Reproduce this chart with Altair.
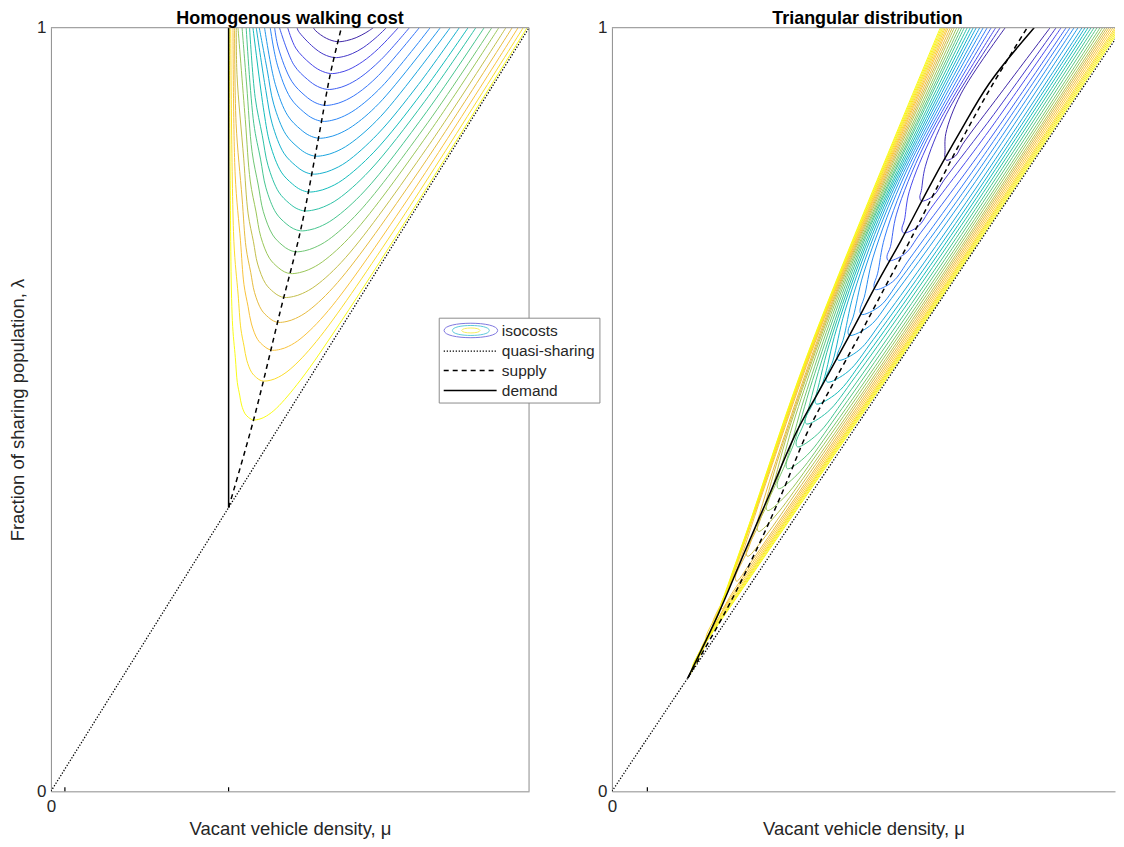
import altair as alt
import pandas as pd

# ---------------- Left panel: homogenous walking cost ----------------
H_MU_MAX = 4.79
H_LEVELS = [0.0, 0.056, 0.111, 0.167, 0.222, 0.278, 0.333, 0.389, 0.444, 0.5,
            0.556, 0.611, 0.667, 0.722, 0.778, 0.833, 0.889, 0.944, 1.0]

H01_MU = [2.63, 2.652, 2.761, 2.87, 2.963, 3.058, 3.155, 3.23]
H01_LAM = [1.0, 0.9960, 0.9860, 0.9817, 0.9831, 0.9870, 0.9935, 1.0]
H02_MU = [2.466, 2.48, 2.628, 2.734, 2.84, 2.929, 3.019, 3.128, 3.256, 3.361]
H02_LAM = [1.0, 0.9954, 0.9747, 0.9651, 0.9609, 0.9622, 0.9661, 0.9739, 0.9870, 1.0]
H03_MU = [2.372, 2.453, 2.596, 2.698, 2.80, 2.891, 2.984, 3.124, 3.281, 3.48]
H03_LAM = [1.0, 0.9733, 0.9533, 0.9441, 0.9400, 0.9413, 0.9452, 0.9557, 0.9726, 1.0]
H04_MU = [2.29, 2.433, 2.572, 2.671, 2.77, 2.862, 2.956, 3.098, 3.308, 3.591]
H04_LAM = [1.0, 0.9515, 0.9321, 0.9231, 0.9192, 0.9205, 0.9244, 0.9348, 0.9583, 1.0]
H05_MU = [2.241, 2.279, 2.414, 2.548, 2.644, 2.74, 2.833, 2.927, 3.07, 3.281, 3.69]
H05_LAM = [1.0, 0.9734, 0.9296, 0.9108, 0.9021, 0.8983, 0.8996, 0.9035, 0.9139, 0.9374, 1.0]
H06_MU = [2.197, 2.269, 2.40, 2.532, 2.626, 2.72, 2.814, 2.909, 3.053, 3.316, 3.799]
H06_LAM = [1.0, 0.9510, 0.9081, 0.8897, 0.8811, 0.8774, 0.8787, 0.8827, 0.8931, 0.9231, 1.0]
H07_MU = [2.14, 2.248, 2.374, 2.50, 2.59, 2.68, 2.776, 2.873, 3.02, 3.287, 3.901]
H07_LAM = [1.0, 0.9257, 0.8846, 0.8670, 0.8588, 0.8553, 0.8566, 0.8605, 0.8709, 0.9009, 1.0]
H08_MU = [2.087, 2.166, 2.232, 2.354, 2.476, 2.563, 2.65, 2.746, 2.843, 2.99, 3.305, 4.0]
H08_LAM = [1.0, 0.9452, 0.8999, 0.8602, 0.8432, 0.8352, 0.8318, 0.8331, 0.8370, 0.8475, 0.8840, 1.0]
H09_MU = [2.057, 2.153, 2.217, 2.334, 2.452, 2.536, 2.62, 2.716, 2.812, 2.959, 3.272, 3.682, 4.091]
H09_LAM = [1.0, 0.9179, 0.8741, 0.8357, 0.8193, 0.8116, 0.8083, 0.8096, 0.8136, 0.8240, 0.8605, 0.9257, 1.0]
H10_MU = [2.024, 2.135, 2.196, 2.308, 2.42, 2.50, 2.58, 2.676, 2.773, 2.92, 3.235, 3.721, 4.179]
H10_LAM = [1.0, 0.8892, 0.8475, 0.8109, 0.7953, 0.7880, 0.7849, 0.7862, 0.7901, 0.8005, 0.8370, 0.9153, 1.0]
H11_MU = [1.99, 2.046, 2.117, 2.175, 2.282, 2.388, 2.464, 2.54, 2.635, 2.731, 2.877, 3.189, 3.745, 4.257]
H11_LAM = [1.0, 0.9087, 0.8592, 0.8196, 0.7849, 0.7700, 0.7631, 0.7601, 0.7614, 0.7653, 0.7757, 0.8123, 0.9035, 1.0]
H12_MU = [1.956, 2.032, 2.10, 2.154, 2.255, 2.356, 2.428, 2.50, 2.594, 2.689, 2.833, 3.143, 3.767, 4.34]
H12_LAM = [1.0, 0.8748, 0.8279, 0.7904, 0.7575, 0.7434, 0.7369, 0.7340, 0.7353, 0.7392, 0.7497, 0.7862, 0.8905, 1.0]
H13_MU = [1.915, 1.961, 2.015, 2.077, 2.128, 2.222, 2.316, 2.383, 2.45, 2.543, 2.637, 2.78, 3.086, 3.778, 4.417]
H13_LAM = [1.0, 0.9250, 0.8377, 0.7940, 0.7591, 0.7286, 0.7154, 0.7093, 0.7066, 0.7079, 0.7119, 0.7223, 0.7588, 0.8761, 1.0]
H14_MU = [1.874, 1.947, 1.997, 2.055, 2.102, 2.189, 2.276, 2.338, 2.40, 2.491, 2.583, 2.722, 3.024, 3.777, 4.487]
H14_LAM = [1.0, 0.8801, 0.7992, 0.7588, 0.7265, 0.6982, 0.6860, 0.6804, 0.6780, 0.6793, 0.6832, 0.6936, 0.7301, 0.8605, 1.0]
H15_MU = [1.857, 1.864, 1.931, 1.976, 2.029, 2.071, 2.15, 2.228, 2.284, 2.34, 2.429, 2.518, 2.655, 2.951, 3.765, 4.558]
H15_LAM = [1.0, 0.9387, 0.8292, 0.7562, 0.7197, 0.6905, 0.6649, 0.6540, 0.6489, 0.6467, 0.6480, 0.6519, 0.6623, 0.6988, 0.8422, 1.0]
H16_MU = [1.84, 1.855, 1.915, 1.955, 2.002, 2.04, 2.11, 2.18, 2.23, 2.28, 2.365, 2.451, 2.583, 2.871, 3.673, 4.621]
H16_LAM = [1.0, 0.8748, 0.7771, 0.7119, 0.6793, 0.6532, 0.6304, 0.6206, 0.6160, 0.6141, 0.6154, 0.6193, 0.6297, 0.6662, 0.8096, 1.0]
H17_MU = [1.824, 1.846, 1.899, 1.934, 1.975, 2.009, 2.07, 2.132, 2.176, 2.22, 2.30, 2.381, 2.505, 2.78, 3.563, 4.68]
H17_LAM = [1.0, 0.8070, 0.7210, 0.6636, 0.6349, 0.6120, 0.5919, 0.5833, 0.5793, 0.5776, 0.5789, 0.5828, 0.5932, 0.6297, 0.7731, 1.0]
H18_MU = [1.801, 1.833, 1.875, 1.903, 1.935, 1.962, 2.011, 2.06, 2.095, 2.13, 2.204, 2.28, 2.397, 2.66, 3.428, 4.731]
H18_LAM = [1.0, 0.7197, 0.6512, 0.6056, 0.5828, 0.5645, 0.5486, 0.5417, 0.5385, 0.5372, 0.5385, 0.5424, 0.5528, 0.5893, 0.7327, 1.0]
H19_MU = [1.7875, 1.795, 1.8175, 1.8475, 1.8675, 1.891, 1.91, 1.945, 1.98, 2.005, 2.03, 2.094, 2.159, 2.261, 2.50, 2.914, 3.556, 4.77]
H19_LAM = [1.0, 0.8123, 0.6167, 0.5678, 0.5352, 0.5189, 0.5059, 0.4944, 0.4896, 0.4874, 0.4863, 0.4876, 0.4915, 0.5019, 0.5385, 0.6167, 0.7471, 1.0]

H_QS_MU = [0.0, 4.79]
H_QS_LAM = [0.0, 1.0]
H_DEM_MU = [1.78, 1.78]
H_DEM_LAM = [0.3716, 1.0]
H_SUP_MU = [1.78, 2.03, 2.30, 2.50, 2.68, 2.80, 2.91]
H_SUP_LAM = [0.3716, 0.4863, 0.6300, 0.7340, 0.8553, 0.9400, 1.0]
H_MARK_MU = [0.14, 1.78]

# ---------------- Right panel: triangular distribution ----------------
T_MU_SHOWN = 5.04
T_LEVELS = [0.0, 0.06, 0.12, 0.18, 0.24, 0.30, 0.35, 0.40, 0.45, 0.50, 0.55, 0.60,
            0.64, 0.68, 0.72, 0.76, 0.80, 0.84, 0.88, 0.91, 0.935, 0.955, 0.97, 0.985, 1.0]

T01_MU = [3.94, 3.497, 3.345, 3.337, 3.335, 3.35, 3.44, 3.514, 3.89, 4.39]
T01_LAM = [1.0, 0.9133, 0.8613, 0.8370, 0.8318, 0.8266, 0.8318, 0.8475, 0.9133, 1.0]
T02_MU = [3.89, 3.35, 3.14, 3.10, 3.085, 3.10, 3.221, 3.327, 3.827, 4.45]
T02_LAM = [1.0, 0.8866, 0.8185, 0.7867, 0.7783, 0.7731, 0.7799, 0.8004, 0.8866, 1.0]
T03_MU = [3.845, 3.234, 2.978, 2.93, 2.905, 2.92, 3.065, 3.196, 3.781, 4.50]
T03_LAM = [1.0, 0.8657, 0.7851, 0.7476, 0.7366, 0.7314, 0.7395, 0.7636, 0.8657, 1.0]
T04_MU = [3.80, 3.134, 2.851, 2.79, 2.755, 2.77, 2.935, 3.093, 3.75, 4.55]
T04_LAM = [1.0, 0.8475, 0.7559, 0.7132, 0.7001, 0.6949, 0.7040, 0.7314, 0.8475, 1.0]
T05_MU = [3.76, 3.037, 2.733, 2.661, 2.625, 2.64, 2.813, 2.987, 3.703, 4.59]
T05_LAM = [1.0, 0.8286, 0.7257, 0.6777, 0.6623, 0.6571, 0.6674, 0.6983, 0.8286, 1.0]
T06_MU = [3.72, 2.951, 2.617, 2.528, 2.485, 2.50, 2.687, 2.884, 3.668, 4.63]
T06_LAM = [1.0, 0.8123, 0.6996, 0.6471, 0.6297, 0.6245, 0.6357, 0.6696, 0.8123, 1.0]
T07_MU = [3.685, 2.879, 2.52, 2.417, 2.365, 2.38, 2.581, 2.801, 3.643, 4.67]
T07_LAM = [1.0, 0.7986, 0.6777, 0.6212, 0.6023, 0.5971, 0.6093, 0.6455, 0.7986, 1.0]
T08_MU = [3.65, 2.801, 2.422, 2.315, 2.255, 2.27, 2.474, 2.710, 3.607, 4.71]
T08_LAM = [1.0, 0.7823, 0.6516, 0.5906, 0.5697, 0.5645, 0.5776, 0.6167, 0.7823, 1.0]
T09_MU = [3.62, 2.733, 2.334, 2.214, 2.145, 2.16, 2.366, 2.618, 3.57, 4.74]
T09_LAM = [1.0, 0.7679, 0.6287, 0.5638, 0.5411, 0.5359, 0.5498, 0.5915, 0.7679, 1.0]
T10_MU = [3.59, 2.667, 2.251, 2.117, 2.035, 2.05, 2.257, 2.525, 3.531, 4.77]
T10_LAM = [1.0, 0.7536, 0.6057, 0.5368, 0.5124, 0.5072, 0.5219, 0.5664, 0.7536, 1.0]
T11_MU = [3.56, 2.608, 2.176, 2.028, 1.935, 1.95, 2.159, 2.441, 3.497, 4.80]
T11_LAM = [1.0, 0.7405, 0.5849, 0.5123, 0.4863, 0.4811, 0.4966, 0.5434, 0.7405, 1.0]
T12_MU = [3.53, 2.543, 2.095, 1.93, 1.845, 1.86, 2.058, 2.348, 3.454, 4.83]
T12_LAM = [1.0, 0.7256, 0.5609, 0.4841, 0.4563, 0.4511, 0.4675, 0.5170, 0.7256, 1.0]
T13_MU = [3.505, 2.484, 2.009, 1.827, 1.745, 1.76, 1.952, 2.253, 3.411, 4.86]
T13_LAM = [1.0, 0.7112, 0.5379, 0.4571, 0.4276, 0.4224, 0.4398, 0.4918, 0.7112, 1.0]
T14_MU = [3.48, 2.428, 1.933, 1.748, 1.655, 1.67, 1.854, 2.168, 3.374, 4.89]
T14_LAM = [1.0, 0.6982, 0.5171, 0.4326, 0.4015, 0.3963, 0.4145, 0.4688, 0.6982, 1.0]
T15_MU = [3.455, 2.37, 1.845, 1.65, 1.545, 1.56, 1.738, 2.064, 3.325, 4.915]
T15_LAM = [1.0, 0.6838, 0.4941, 0.4056, 0.3729, 0.3677, 0.3866, 0.4435, 0.6838, 1.0]
T16_MU = [3.43, 2.314, 1.769, 1.568, 1.455, 1.47, 1.633, 1.967, 3.279, 4.94]
T16_LAM = [1.0, 0.6701, 0.4722, 0.3799, 0.3455, 0.3403, 0.3601, 0.4194, 0.6701, 1.0]
T17_MU = [3.41, 2.253, 1.691, 1.469, 1.345, 1.36, 1.505, 1.843, 3.215, 4.96]
T17_LAM = [1.0, 0.6538, 0.4462, 0.3493, 0.3129, 0.3077, 0.3284, 0.3907, 0.6538, 1.0]
T18_MU = [3.39, 2.194, 1.613, 1.369, 1.237, 1.25, 1.376, 1.719, 3.151, 4.98]
T18_LAM = [1.0, 0.6375, 0.4201, 0.3186, 0.2803, 0.2751, 0.2969, 0.3621, 0.6375, 1.0]
T19_MU = [3.37, 2.128, 1.509, 1.232, 1.09, 1.10, 1.213, 1.569, 3.076, 5.00]
T19_LAM = [1.0, 0.6193, 0.3909, 0.2842, 0.2438, 0.2386, 0.2614, 0.3299, 0.6193, 1.0]
T20_MU = [3.355, 2.089, 1.454, 1.16, 1.012, 1.02, 1.122, 1.485, 3.037, 5.02]
T20_LAM = [1.0, 0.6082, 0.3731, 0.2634, 0.2216, 0.2164, 0.2399, 0.3104, 0.6082, 1.0]
T21_MU = [3.34, 2.054, 1.404, 1.098, 0.943, 0.95, 1.041, 1.411, 3.003, 5.04]
T21_LAM = [1.0, 0.5984, 0.3575, 0.2451, 0.2021, 0.1969, 0.2210, 0.2932, 0.5984, 1.0]
T22_MU = [3.327, 2.026, 1.375, 1.062, 0.895, 0.90, 0.979, 1.353, 2.975, 5.055]
T22_LAM = [1.0, 0.5906, 0.3450, 0.2304, 0.1864, 0.1812, 0.2057, 0.2795, 0.5906, 1.0]
T23_MU = [3.314, 2.003, 1.34, 1.018, 0.847, 0.85, 0.928, 1.304, 2.953, 5.07]
T23_LAM = [1.0, 0.5841, 0.3346, 0.2181, 0.1734, 0.1682, 0.1931, 0.2681, 0.5841, 1.0]
T24_MU = [3.302, 1.984, 1.318, 0.99, 0.808, 0.81, 0.890, 1.273, 2.941, 5.085]
T24_LAM = [1.0, 0.5795, 0.3272, 0.2095, 0.1643, 0.1591, 0.1844, 0.2600, 0.5795, 1.0]
T25_MU = [3.29, 1.969, 1.299, 0.965, 0.775, 0.857, 1.2465, 2.933, 5.10]
T25_LAM = [1.0, 0.5756, 0.3210, 0.2021, 0.1512, 0.1767, 0.2531, 0.5756, 1.0]

T_QS_MU = [0.0, 5.12]
T_QS_LAM = [0.0, 1.0]
T_DEM_MU = [0.76, 1.07, 1.34, 1.59, 1.85, 2.08, 2.38, 2.66, 2.90, 3.20, 3.48, 3.78, 4.23]
T_DEM_LAM = [0.1484, 0.2334, 0.3168, 0.3924, 0.4707, 0.5254, 0.5971, 0.6662, 0.7223, 0.7966, 0.8618, 0.9270, 1.0]
T_SUP_MU = [0.76, 1.13, 1.45, 1.71, 1.96, 2.18, 2.48, 2.76, 2.99, 3.28, 3.54, 3.82, 4.16]
T_SUP_LAM = [0.1484, 0.2334, 0.3168, 0.3924, 0.4707, 0.5254, 0.5971, 0.6662, 0.7223, 0.7966, 0.8618, 0.9270, 1.0]
T_MARK_MU = [0.355]

LEGEND_LABELS = ["isocosts", "quasi-sharing", "supply", "demand"]

# ---------------- styles ----------------
PARULA_POS = [0.0, 0.12, 0.25, 0.37, 0.5, 0.62, 0.72, 0.82, 0.9, 1.0]
PARULA_HEX = ["#3e26a8", "#4748ec", "#2f7ffb", "#1aa0e4", "#12bcbb",
              "#49c68b", "#99c659", "#e2b93f", "#fcc43a", "#f9fb15"]
FONT = "Liberation Sans"
TXT = "#262626"
AXC = "#8c8c8c"
LABEL_SIZE = 17
TITLE_SIZE = 18.5
HEAD_SIZE = 18
PLOT_H = 765

H_CURVES = [(H01_MU, H01_LAM), (H02_MU, H02_LAM), (H03_MU, H03_LAM), (H04_MU, H04_LAM),
            (H05_MU, H05_LAM), (H06_MU, H06_LAM), (H07_MU, H07_LAM), (H08_MU, H08_LAM),
            (H09_MU, H09_LAM), (H10_MU, H10_LAM), (H11_MU, H11_LAM), (H12_MU, H12_LAM),
            (H13_MU, H13_LAM), (H14_MU, H14_LAM), (H15_MU, H15_LAM), (H16_MU, H16_LAM),
            (H17_MU, H17_LAM), (H18_MU, H18_LAM), (H19_MU, H19_LAM)]
T_CURVES = [(T01_MU, T01_LAM), (T02_MU, T02_LAM), (T03_MU, T03_LAM),
            (T04_MU, T04_LAM), (T05_MU, T05_LAM), (T06_MU, T06_LAM), (T07_MU, T07_LAM),
            (T08_MU, T08_LAM), (T09_MU, T09_LAM), (T10_MU, T10_LAM), (T11_MU, T11_LAM),
            (T12_MU, T12_LAM), (T13_MU, T13_LAM), (T14_MU, T14_LAM), (T15_MU, T15_LAM),
            (T16_MU, T16_LAM), (T17_MU, T17_LAM), (T18_MU, T18_LAM), (T19_MU, T19_LAM),
            (T20_MU, T20_LAM), (T21_MU, T21_LAM), (T22_MU, T22_LAM), (T23_MU, T23_LAM),
            (T24_MU, T24_LAM), (T25_MU, T25_LAM)]


def curves_frame(curves, levels):
    rows = []
    for cid, ((mu, lam), lev) in enumerate(zip(curves, levels)):
        for i, (m, l) in enumerate(zip(mu, lam)):
            rows.append({"cid": cid, "i": i, "mu": m, "lam": l, "level": lev})
    return pd.DataFrame(rows)


def line_frame(mu, lam):
    return pd.DataFrame({"mu": mu, "lam": lam, "i": list(range(len(mu)))})


DUMMY = alt.Data(values=[{"k": 0}])
cscale = alt.Scale(domain=PARULA_POS, range=PARULA_HEX, interpolate="rgb")


def make_axes(xmax, ytitle):
    xax = alt.Axis(values=[0], format="d", title="Vacant vehicle density, μ",
                   labelFontSize=LABEL_SIZE, labelColor=TXT, labelFont=FONT, labelFlush=False,
                   labelPadding=7, titleFont=FONT, titleFontSize=TITLE_SIZE,
                   titleFontWeight="normal", titleColor=TXT, titlePadding=5, ticks=False,
                   grid=False, domainColor=AXC, domainWidth=1)
    yargs = dict(values=[0, 1], format="d", labelFontSize=LABEL_SIZE, labelColor=TXT,
                 labelFont=FONT, labelPadding=5, ticks=False, grid=False, domainColor=AXC,
                 domainWidth=1, titleFont=FONT, titleFontSize=TITLE_SIZE,
                 titleFontWeight="normal", titleColor=TXT, titlePadding=9)
    if ytitle:
        yax = alt.Axis(title=ytitle, **yargs)
    else:
        yax = alt.Axis(title=None, **yargs)
    X = alt.X("mu:Q", scale=alt.Scale(domain=[0, xmax], nice=False, zero=False), axis=xax)
    Y = alt.Y("lam:Q", scale=alt.Scale(domain=[0, 1], nice=False, zero=False), axis=yax)
    return X, Y


def panel(curves, levels, qs, sup, dem, marks, xmax, width, ytitle):
    X, Y = make_axes(xmax, ytitle)
    layers = []
    layers.append(alt.Chart(curves_frame(curves, levels)).mark_line(
        interpolate="catmull-rom", strokeWidth=1, clip=True).encode(
        x=X, y=Y, detail="cid:N", order="i:Q",
        color=alt.Color("level:Q", scale=cscale, legend=None)))
    layers.append(alt.Chart(line_frame(*qs)).mark_line(
        color="black", strokeDash=[1.3, 1.7], strokeWidth=1.3, clip=True).encode(
        x=X, y=Y, order="i:Q"))
    layers.append(alt.Chart(line_frame(*sup)).mark_line(
        color="black", strokeDash=[5, 4], strokeWidth=1.5, clip=True,
        interpolate="catmull-rom").encode(x=X, y=Y, order="i:Q"))
    layers.append(alt.Chart(line_frame(*dem)).mark_line(
        color="black", strokeWidth=1.5, clip=True, interpolate="catmull-rom").encode(
        x=X, y=Y, order="i:Q"))
    layers.append(alt.Chart(pd.DataFrame({"mu": marks})).mark_rule(
        color="black", strokeWidth=1.2).encode(
        x=X, y=alt.value(PLOT_H - 4), y2=alt.value(PLOT_H)))
    layers.append(alt.Chart(DUMMY).mark_rule(color=AXC, strokeWidth=1).encode(
        x=alt.value(0), x2=alt.value(width), y=alt.value(0)))
    return layers


left_layers = panel(H_CURVES, H_LEVELS, (H_QS_MU, H_QS_LAM), (H_SUP_MU, H_SUP_LAM),
                    (H_DEM_MU, H_DEM_LAM), H_MARK_MU, H_MU_MAX, 479,
                    "Fraction of sharing population, λ")
left_layers.append(alt.Chart(DUMMY).mark_rule(color=AXC, strokeWidth=1).encode(
    x=alt.value(479), y=alt.value(0), y2=alt.value(PLOT_H)))

# legend drawn inside the left panel (it straddles the gap, like the original)
ELLIPSE = "M -1 0 C -1 -0.36 1 -0.36 1 0 C 1 0.36 -1 0.36 -1 0 Z"
legend_layers = [
    alt.Chart(DUMMY).mark_rect(fill="white", stroke=AXC, strokeWidth=1).encode(
        x=alt.value(389), x2=alt.value(550), y=alt.value(291), y2=alt.value(376)),
    alt.Chart(DUMMY).mark_point(shape=ELLIPSE, filled=False, size=2884, strokeWidth=1,
                                color="#4a3fd2").encode(x=alt.value(420.7), y=alt.value(303.3)),
    alt.Chart(DUMMY).mark_point(shape=ELLIPSE, filled=False, size=1369, strokeWidth=1,
                                color="#1ab4cc").encode(x=alt.value(420.7), y=alt.value(303.3)),
    alt.Chart(DUMMY).mark_point(shape=ELLIPSE, filled=False, size=335, strokeWidth=1,
                                color="#f2e61c").encode(x=alt.value(420.7), y=alt.value(303.3)),
    alt.Chart(DUMMY).mark_rule(color="black", strokeDash=[1.3, 1.7], strokeWidth=1.3).encode(
        x=alt.value(393.5), x2=alt.value(446.5), y=alt.value(324)),
    alt.Chart(DUMMY).mark_rule(color="black", strokeDash=[5, 4], strokeWidth=1.5).encode(
        x=alt.value(393.5), x2=alt.value(446.5), y=alt.value(343.5)),
    alt.Chart(DUMMY).mark_rule(color="black", strokeWidth=1.5).encode(
        x=alt.value(393.5), x2=alt.value(446.5), y=alt.value(363.5)),
]
for lab, ypos in zip(LEGEND_LABELS, [303.5, 324, 343.5, 363.5]):
    legend_layers.append(alt.Chart(DUMMY).mark_text(
        align="left", baseline="middle", fontSize=15.5, font=FONT, color=TXT).encode(
        x=alt.value(451.7), y=alt.value(ypos), text=alt.value(lab)))

left = alt.layer(*(left_layers + legend_layers)).properties(
    width=479, height=PLOT_H,
    title=alt.Title("Homogenous walking cost", fontSize=HEAD_SIZE, fontWeight="bold",
                    font=FONT, color="black", offset=-9, anchor="middle"))

right_layers = panel(T_CURVES, T_LEVELS, (T_QS_MU, T_QS_LAM), (T_SUP_MU, T_SUP_LAM),
                     (T_DEM_MU, T_DEM_LAM), T_MARK_MU, T_MU_SHOWN, 504, None)
right = alt.layer(*right_layers).properties(
    width=504, height=PLOT_H,
    title=alt.Title("Triangular distribution", fontSize=HEAD_SIZE, fontWeight="bold",
                    font=FONT, color="black", offset=-9, anchor="middle", dx=4))

chart = alt.hconcat(left, right, spacing=83, bounds="flush").properties(
    padding=0, background="white"
).configure_view(stroke="transparent")

chart.save("out.html", embed_options={"renderer": "svg", "actions": False})
